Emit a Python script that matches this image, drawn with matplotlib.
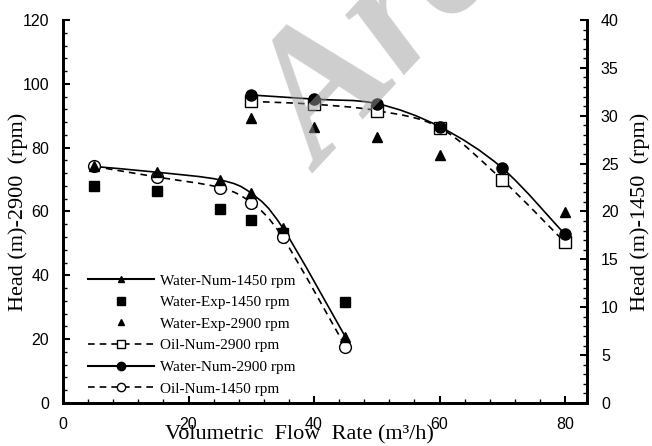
import numpy as np
import matplotlib
matplotlib.use("Agg")
import matplotlib.pyplot as plt
from matplotlib.path import Path
from matplotlib.patches import PathPatch
from matplotlib.lines import Line2D
from matplotlib.ticker import MultipleLocator

# flow rates (m3/h)
q_1450 = [5, 15, 25, 30, 35, 45]
q_2900 = [30, 40, 50, 60, 70, 80]

# heads at 1450 rpm (right axis, m)
water_num_1450 = [24.7, 24.1, 23.3, 21.9, 18.3, 6.9]
water_exp_1450 = [22.7, 22.1, 20.3, 19.1, 17.8, 10.5]
oil_num_1450 = [24.7, 23.6, 22.5, 20.9, 17.3, 5.9]

# heads at 2900 rpm (left axis, m)
water_num_2900 = [96.5, 95.2, 93.8, 86.6, 73.6, 52.8]
water_exp_2900 = [89.4, 86.6, 83.2, 77.7, 70.5, 59.7]
oil_num_2900 = [94.5, 93.6, 91.6, 86.3, 69.9, 50.3]

serif = "Liberation Serif"
sans = "Liberation Sans"


def smooth_path(x, y):
    # Catmull-Rom segments written as cubic Bezier curves
    p = np.column_stack([x, y]).astype(float)
    ext = np.vstack([p[0], p, p[-1]])
    verts = [p[0]]
    codes = [Path.MOVETO]
    for i in range(len(p) - 1):
        p0, p1, p2, p3 = ext[i], ext[i + 1], ext[i + 2], ext[i + 3]
        verts += [p1 + (p2 - p0) / 6, p2 - (p3 - p1) / 6, p2]
        codes += [Path.CURVE4] * 3
    return Path(verts, codes)


def curve(ax, x, y, ls):
    ax.add_patch(PathPatch(smooth_path(x, y), fill=False, lw=1.2,
                           ls=ls, edgecolor="black", zorder=2))


fig = plt.figure(figsize=(6.52, 4.46), dpi=100)
ax = fig.add_axes([63 / 652, 43 / 446, 524 / 652, 383 / 446])
ax2 = ax.twinx()

# 2900 rpm on the left axis
curve(ax, q_2900, water_num_2900, "-")
curve(ax, q_2900, oil_num_2900, (0, (4, 3)))
ax.plot(q_2900, water_exp_2900, "^", color="black", ms=7, zorder=3)
ax.plot(q_2900, oil_num_2900, "s", mfc="white", mec="black", mew=1.0,
        ms=8, zorder=3)
ax.plot(q_2900, water_num_2900, "o", color="black", ms=8, zorder=4)

# 1450 rpm on the right axis
curve(ax2, q_1450, water_num_1450, "-")
curve(ax2, q_1450, oil_num_1450, (0, (4, 3)))
ax2.plot(q_1450, water_exp_1450, "s", color="black", ms=6.5, zorder=3)
ax2.plot(q_1450, oil_num_1450, "o", mfc="white", mec="black", mew=1.0,
         ms=8.5, zorder=3)
ax2.plot(q_1450, water_num_1450, "^", color="black", ms=7, zorder=4)

ax.set_xlim(0, 83.5)
ax.set_ylim(0, 120)
ax2.set_ylim(0, 40)

ax.xaxis.set_major_locator(MultipleLocator(20))
ax.xaxis.set_minor_locator(MultipleLocator(4))
ax.yaxis.set_major_locator(MultipleLocator(20))
ax.yaxis.set_minor_locator(MultipleLocator(4))
ax2.yaxis.set_major_locator(MultipleLocator(5))
ax2.yaxis.set_minor_locator(MultipleLocator(1))

for a in (ax, ax2):
    a.spines["top"].set_visible(False)
    for s in ("left", "right", "bottom"):
        a.spines[s].set_linewidth(2)
    a.tick_params(which="major", direction="in", length=5, width=1.5,
                  pad=10, labelsize=11.5)
    a.tick_params(which="minor", direction="in", length=3, width=1)
    for lab in a.get_xticklabels() + a.get_yticklabels():
        lab.set_fontfamily(sans)
ax.tick_params(axis="x", top=False)

ax.set_ylabel("Head (m)-2900  (rpm)", family=serif, fontsize=16)
ax2.set_ylabel("Head (m)-1450  (rpm)", family=serif, fontsize=16)
ax.yaxis.set_label_coords(-35 / 524, 0.5)
ax2.yaxis.set_label_coords(1 + 43 / 524, 0.5)
fig.text(299 / 652, 11 / 446, "Volumetric  Flow  Rate (m³/h)", family=serif,
         fontsize=16, ha="center", va="center")

handles = [
    Line2D([], [], color="black", lw=1.5, marker="^", ms=5),
    Line2D([], [], color="black", ls="none", marker="s", ms=6),
    Line2D([], [], color="black", ls="none", marker="^", ms=5),
    Line2D([], [], color="black", lw=1.2, ls=(0, (4, 3)), marker="s",
           mfc="white", ms=6),
    Line2D([], [], color="black", lw=1.5, marker="o", ms=6),
    Line2D([], [], color="black", lw=1.2, ls=(0, (4, 3)), marker="o",
           mfc="white", ms=6),
]
labels = ["Water-Num-1450 rpm", "Water-Exp-1450 rpm", "Water-Exp-2900 rpm",
          "Oil-Num-2900 rpm", "Water-Num-2900 rpm", "Oil-Num-1450 rpm"]
ax2.legend(handles, labels, loc="lower left", bbox_to_anchor=(0.022, -0.017),
           frameon=False, handlelength=4.3, handletextpad=0.4,
           labelspacing=0.52, prop={"family": serif, "size": 11})

# grey watermark
fig.text(322 / 652, 1 - 174 / 446, "Arc", family=serif, style="italic",
         weight="bold", fontsize=132, color=(0.62, 0.62, 0.62), alpha=0.5,
         rotation=47, rotation_mode="anchor", ha="left", va="baseline",
         zorder=10)

fig.savefig("out.png", dpi=100)
